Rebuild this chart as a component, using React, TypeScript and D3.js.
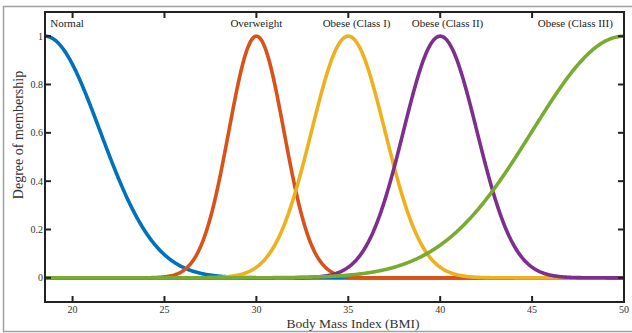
import React from "react";
import * as d3 from "d3";

// Membership function categories (Gaussian MFs)
const categories = ["Normal", "Overweight", "Obese (Class I)", "Obese (Class II)", "Obese (Class III)"];
const centers = [18.5, 30, 35, 40, 50];
const sigmas = [3, 1.5, 2, 2, 5];
const colors = ["#0072BD", "#D95319", "#EDB120", "#7E2F8E", "#77AC30"];
const labelPositions = [19.7, 30.0, 35.45, 40.4, 47.35];

const xTicks = [20, 25, 30, 35, 40, 45, 50];
const yTicks = [0, 0.2, 0.4, 0.6, 0.8, 1];
const yTickLabels = ["0", "0.2", "0.4", "0.6", "0.8", "1"];

const xDomain: [number, number] = [18.5, 50];
const yDomain: [number, number] = [-0.1, 1.1];

const W = 632;
const H = 333;
const left = 45;
const right = 624;
const top = 12;
const bottom = 302;

export default function App() {
  const x = d3.scaleLinear().domain(xDomain).range([left, right]);
  const y = d3.scaleLinear().domain(yDomain).range([bottom, top]);
  const samples = d3.range(xDomain[0], xDomain[1] + 1e-9, 0.05);
  const line = d3
    .line<[number, number]>()
    .x((d) => x(d[0]))
    .y((d) => y(d[1]))
    .curve(d3.curveLinear);

  const font = "'Liberation Serif', 'Times New Roman', serif";
  const textColor = "#333";
  const tickLen = 6;

  return (
    <svg
      width={W}
      height={H}
      style={{ position: "absolute", left: 0, top: 0, background: "#fff" }}
      fontFamily={font}
    >
      <rect x={0} y={0} width={W} height={H} fill="#fff" />
      {/* outer frame */}
      <rect x={3.5} y={6.5} width={640} height={325} fill="none" stroke="#a0a0a0" strokeWidth={1.5} />

      {/* curves */}
      <g>
        {centers.map((c, i) => {
          const pts: [number, number][] = samples.map((v) => [
            v,
            Math.exp(-((v - c) * (v - c)) / (2 * sigmas[i] * sigmas[i])),
          ]);
          return (
            <path
              key={categories[i]}
              d={line(pts) || ""}
              fill="none"
              stroke={colors[i]}
              strokeWidth={3.6}
              strokeLinejoin="round"
            />
          );
        })}
      </g>

      {/* axes box */}
      <rect
        x={left}
        y={top}
        width={right - left}
        height={bottom - top}
        fill="none"
        stroke="#222"
        strokeWidth={2}
      />

      {/* x ticks */}
      {xTicks.map((t) => (
        <g key={"x" + t}>
          <line x1={x(t)} x2={x(t)} y1={bottom} y2={bottom - tickLen} stroke="#222" strokeWidth={2} />
          <line x1={x(t)} x2={x(t)} y1={top} y2={top + tickLen} stroke="#222" strokeWidth={2} />
          <text x={x(t)} y={313} textAnchor="middle" fontSize={10} fill={textColor}>
            {t}
          </text>
        </g>
      ))}

      {/* y ticks */}
      {yTicks.map((t, i) => (
        <g key={"y" + t}>
          <line x1={left} x2={left + tickLen} y1={y(t)} y2={y(t)} stroke="#222" strokeWidth={2} />
          <line x1={right} x2={right - tickLen} y1={y(t)} y2={y(t)} stroke="#222" strokeWidth={2} />
          <text x={43} y={y(t) + 3.5} textAnchor="end" fontSize={10} fill={textColor}>
            {yTickLabels[i]}
          </text>
        </g>
      ))}

      {/* category labels */}
      {categories.map((c, i) => (
        <text key={"l" + c} x={x(labelPositions[i])} y={27} textAnchor="middle" fontSize={11} fill="#222">
          {c}
        </text>
      ))}

      {/* axis titles */}
      <text x={353} y={328} textAnchor="middle" fontSize={13.5} fill={textColor}>
        Body Mass Index (BMI)
      </text>
      <text
        transform={`translate(23, 135) rotate(-90)`}
        textAnchor="middle"
        fontSize={14}
        fill={textColor}
      >
        Degree of membership
      </text>
    </svg>
  );
}
